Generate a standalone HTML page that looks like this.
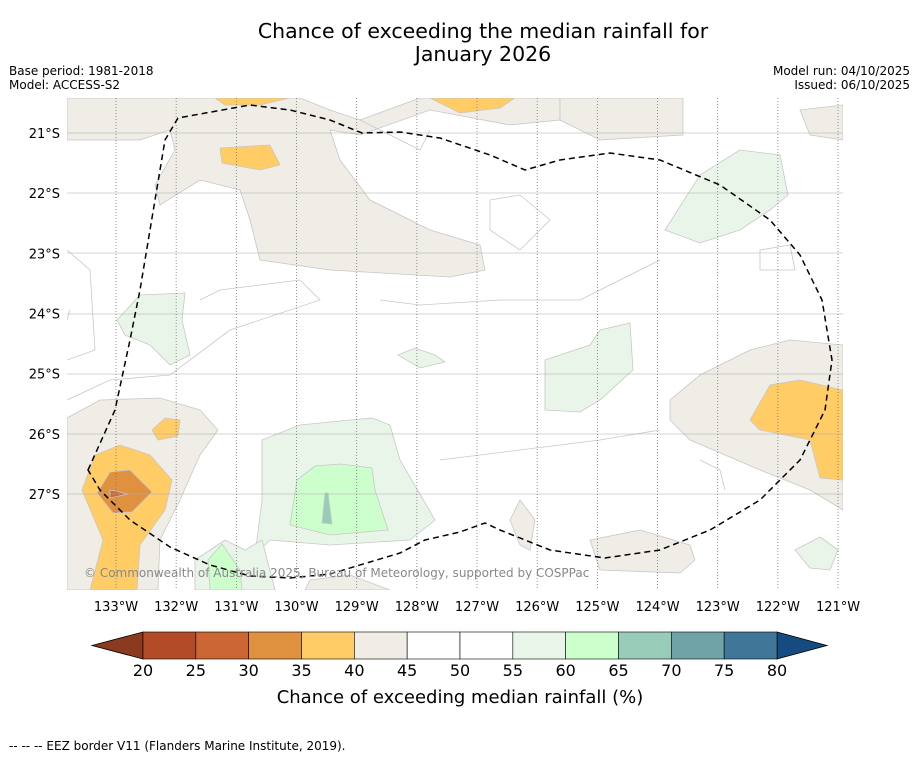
<!DOCTYPE html>
<html><head><meta charset="utf-8"><style>
body{margin:0;background:#fff;font-family:"Liberation Sans","DejaVu Sans",sans-serif}
svg text{font-family:"DejaVu Sans","Liberation Sans",sans-serif}
</style></head><body>
<svg id="chart" width="919" height="758" viewBox="0 0 919 758">
<text x="483" y="38" font-size="20.5" text-anchor="middle">Chance of exceeding the median rainfall for</text>
<text x="483" y="61" font-size="20.5" text-anchor="middle">January 2026</text>
<text x="9" y="75" font-size="12">Base period: 1981-2018</text>
<text x="9" y="89" font-size="12">Model: ACCESS-S2</text>
<text x="910" y="75" font-size="12" text-anchor="end">Model run: 04/10/2025</text>
<text x="910" y="89" font-size="12" text-anchor="end">Issued: 06/10/2025</text>
<defs><clipPath id="mc"><rect x="67" y="98" width="776" height="492"/></clipPath></defs>
<g clip-path="url(#mc)" stroke="#c8c8c8" stroke-width="0.8">
<rect x="67" y="98" width="776" height="492" fill="#fff" stroke="none"/>
<polygon fill="#f0ece6" points="67,98 300,98 330,110 360,120 420,98 560,98 560,120 510,125 430,110 360,135 330,130 340,160 370,200 430,230 480,245 485,270 450,277 330,270 260,260 250,220 240,190 200,180 160,205 155,185 175,150 170,130 140,140 67,140"/>
<polygon fill="#f0ece6" points="560,98 683,98 683,135 600,140 560,120"/>
<polygon fill="#f0ece6" points="800,110 843,105 843,140 810,135"/>
<polygon fill="#ffcc66" points="215,98 290,98 260,105 225,105"/>
<polygon fill="#ffcc66" points="430,98 515,98 500,108 460,113"/>
<polygon fill="#ffcc66" points="220,148 270,145 280,165 260,170 222,163"/>
<polygon fill="#f0ece6" points="670,400 700,375 750,350 790,340 843,345 843,510 810,490 760,470 690,440 670,420"/>
<polygon fill="#ffcc66" points="750,420 770,385 800,380 843,390 843,480 820,478 810,440 760,430"/>
<polygon fill="#f0ece6" points="67,418 100,400 160,398 200,410 218,430 200,455 180,500 160,540 158,590 67,590"/>
<polygon fill="#ffcc66" points="82,490 95,455 120,445 150,455 172,480 165,510 140,545 137,590 90,590 103,540"/>
<polygon fill="#ffcc66" points="152,430 165,418 180,420 178,436 158,440"/>
<polygon fill="#e09140" points="97,493 110,472 130,470 152,492 132,512 113,513"/>
<polygon fill="#cc6633" points="110,490 128,494 110,498"/>
<polygon fill="#f0ece6" points="510,520 520,500 535,520 530,550 520,545"/>
<polygon fill="#f0ece6" points="590,540 640,530 690,545 695,560 680,573 600,570"/>
<polygon fill="#f0ece6" points="305,590 310,580 350,575 390,590"/>
<polygon fill="#eaf5ea" points="665,230 700,175 740,150 780,155 788,195 770,210 740,230 700,243"/>
<polygon fill="#eaf5ea" points="117,320 140,295 185,293 182,320 190,355 170,365 150,345 125,335"/>
<polygon fill="#eaf5ea" points="545,360 590,345 600,330 630,323 633,370 600,400 580,412 545,410"/>
<polygon fill="#eaf5ea" points="398,355 415,348 435,355 445,362 420,368"/>
<polygon fill="#eaf5ea" points="262,440 300,425 350,420 372,418 390,425 400,460 435,520 410,540 330,545 270,540 255,555 262,500"/>
<polygon fill="#eaf5ea" points="195,560 225,540 245,550 262,540 275,590 195,590"/>
<polygon fill="#ccffcc" points="290,525 297,480 315,466 340,464 372,468 375,490 388,530 330,535"/>
<polygon fill="#ccffcc" points="208,560 222,544 240,570 242,590 210,590"/>
<polygon fill="#99ccb8" points="322,523 325,493 328,493 332,524"/>
<polygon fill="#eaf5ea" points="795,550 820,537 838,550 830,570 810,568"/>
<path fill="none" d="M67,400 L110,380 L170,375 L230,330 L320,300 L300,280 L220,290 L200,300 M380,300 L420,305 L500,300 L580,300 L660,260 M440,460 L520,450 L600,440 L660,430 M700,460 L720,470 L725,490 M360,120 L420,150 L430,130 M490,200 L520,195 L550,220 L520,250 L490,230 Z M760,250 L790,245 L795,270 L760,270 Z M67,250 L90,270 L95,350 L67,360 M67,320 L70,310"/>
<g stroke="#aaa" stroke-width="0.6"><line x1="67" x2="843" y1="133" y2="133"/><line x1="67" x2="843" y1="193" y2="193"/><line x1="67" x2="843" y1="253" y2="253"/><line x1="67" x2="843" y1="314" y2="314"/><line x1="67" x2="843" y1="374" y2="374"/><line x1="67" x2="843" y1="434" y2="434"/><line x1="67" x2="843" y1="494" y2="494"/></g>
<g id="lonlines" stroke="#777" stroke-width="0.8" stroke-dasharray="1,2"></g>
<path fill="none" stroke="#000" stroke-width="1.5" stroke-dasharray="6,4" d="M88,470 L115,410 L130,340 L140,290 L155,200 L165,140 L178,118 L250,105 L290,110 L330,120 L362,133 L400,132 L440,138 L490,155 L525,170 L560,160 L610,153 L660,160 L720,185 L770,220 L800,255 L822,300 L832,360 L825,410 L800,460 L760,500 L710,530 L660,550 L605,558 L550,550 L500,530 L485,523 L460,532 L425,540 L400,553 L370,562 L330,574 L290,578 L250,576 L210,565 L170,547 L130,520 L100,490 Z"/>
<text x="84" y="577" font-size="12" fill="#888" stroke="none">© Commonwealth of Australia 2025, Bureau of Meteorology, supported by COSPPac</text>
</g>
<g id="lataxis" font-size="13" text-anchor="end"></g>
<g id="lonaxis" font-size="13" text-anchor="middle"></g>
<g id="cbar"></g>
<text x="460" y="703" font-size="18" text-anchor="middle">Chance of exceeding median rainfall (%)</text>
<text x="9" y="750" font-size="12">--  --  -- EEZ border V11 (Flanders Marine Institute, 2019).</text>
<script>
const lonTicks=[133,132,131,130,129,128,127,126,125,124,123,122,121];
const latTicks=[21,22,23,24,25,26,27];
const cbarLevels=[20,25,30,35,40,45,50,55,60,65,70,75,80];
const cbarColors=["#b34a28","#cc6633","#e09140","#ffcc66","#f0ece6","#ffffff","#ffffff","#eaf5ea","#ccffcc","#99ccb8","#6fa3a8","#407799"];
const NS="http://www.w3.org/2000/svg";
const xLon=l=>116+(133-l)*60.17;
const yLat=l=>133+(l-21)*60.17;
const xPct=p=>143+(p-20)*(634/60);
function mk(t,a,parent){const e=document.createElementNS(NS,t);for(const k in a)e.setAttribute(k,a[k]);parent.appendChild(e);return e;}
const ll=document.getElementById('lonlines'),la=document.getElementById('lonaxis'),ya=document.getElementById('lataxis'),cb=document.getElementById('cbar');
lonTicks.forEach(l=>{const x=xLon(l);
const g=mk('line',{x1:x,x2:x,y1:98,y2:590},ll);


const t=mk('text',{x:x,y:611},la);t.textContent=l+'°W';

});
latTicks.forEach(l=>{const y=yLat(l);
const t=mk('text',{x:60,y:y+5},ya);t.textContent=l+'°S';

});
const y0=632,y1=659;
const lt=mk('polygon',{points:`92,${(y0+y1)/2} 143,${y0} 143,${y1}`,fill:'#8b3a1f',stroke:'#000','stroke-width':0.8},cb);


const rt=mk('polygon',{points:`827,${(y0+y1)/2} 777,${y0} 777,${y1}`,fill:'#154b80',stroke:'#000','stroke-width':0.8},cb);


cbarColors.forEach((c,i)=>{const a=xPct(cbarLevels[i]),b=xPct(cbarLevels[i+1]);
const r=mk('rect',{x:a,y:y0,width:b-a,height:y1-y0,fill:c,stroke:'#000','stroke-width':0.6},cb);

});
cbarLevels.forEach(p=>{const t=mk('text',{x:xPct(p),y:676,'font-size':16,'text-anchor':'middle'},cb);t.textContent=p;

});
</script>
</svg>
</body></html>
